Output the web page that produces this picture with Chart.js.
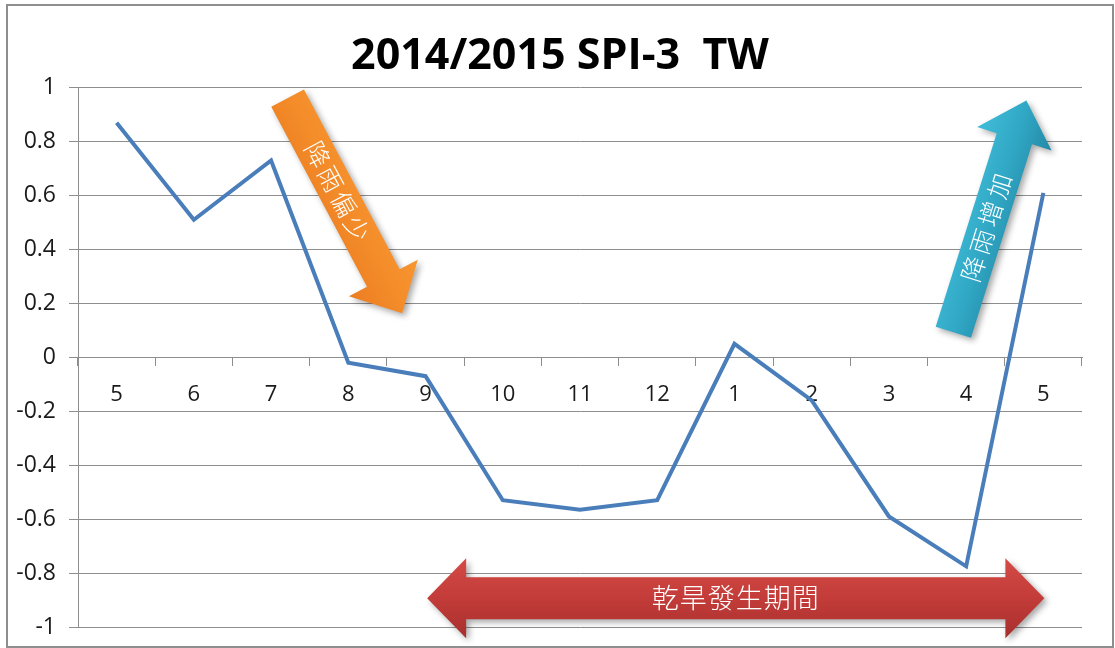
<!DOCTYPE html>
<html>
<head>
<meta charset="utf-8">
<title>2014/2015 SPI-3 TW</title>
<script src="https://cdn.jsdelivr.net/npm/chart.js@4"></script>
<style>
    html, body { margin: 0; padding: 0; background: #fff; }
    #frame {
        position: absolute;
        left: 6px;
        top: 4px;
        width: 1108px;
        height: 644px;
        box-sizing: border-box;
        border: 2px solid #8e8e8e;
        background: #fff;
    }
    #box { position: relative; width: 1104px; height: 640px; }
</style>
</head>
<body>
<div id="frame"><div id="box"><canvas id="spiChart"></canvas></div></div>
<script>
// SPI-3 for Taiwan, May 2014 .. May 2015
const months = ['5', '6', '7', '8', '9', '10', '11', '12', '1', '2', '3', '4', '5'];
const spi3 = [0.87, 0.51, 0.73, -0.02, -0.07, -0.53, -0.565, -0.53, 0.05, -0.16, -0.59, -0.775, 0.61];
const yRange = [-1, 1, 0.2];   // min, max, step

// Callout arrows, in data units: [category index, value]
const fallTail = [2.214, 0.961];
const fallTip = [3.697, 0.163];
const fallText = '降雨偏少';
const riseTail = [10.834, 0.093];
const riseTip = [11.780, 0.952];
const riseText = '降雨增加';
const droughtLeft = [4.021, -0.893];
const droughtRight = [12.013, -0.893];
const droughtText = '乾旱發生期間';

const gridGray = '#8e8e8e';
const labelFont = '"Open Sans", sans-serif';
const cjkFont = '"Noto Sans CJK TC", "Noto Sans CJK SC", sans-serif';

// ============================================
// Arrow drawing helpers
// ============================================

function arrowPath(ctx, len, shaft, head, headLen, twoHeads) {
    const s = shaft / 2, h = head / 2;
    ctx.beginPath();
    if (twoHeads) {
        ctx.moveTo(0, 0);
        ctx.lineTo(headLen, -h);
        ctx.lineTo(headLen, -s);
    } else {
        ctx.moveTo(0, -s);
    }
    ctx.lineTo(len - headLen, -s);
    ctx.lineTo(len - headLen, -h);
    ctx.lineTo(len, 0);
    ctx.lineTo(len - headLen, h);
    ctx.lineTo(len - headLen, s);
    if (twoHeads) {
        ctx.lineTo(headLen, s);
        ctx.lineTo(headLen, h);
    } else {
        ctx.lineTo(0, s);
    }
    ctx.closePath();
}

function drawArrow(ctx, from, to, opts) {
    const dx = to[0] - from[0], dy = to[1] - from[1];
    const len = Math.sqrt(dx * dx + dy * dy);
    const angle = Math.atan2(dy, dx);

    ctx.save();
    ctx.translate(from[0], from[1]);
    ctx.rotate(angle);

    const grad = ctx.createLinearGradient(0, -opts.head / 2, 0, opts.head / 2);
    opts.colors.forEach((c, i) => grad.addColorStop(i / (opts.colors.length - 1), c));

    // soft drop shadow, like the office shape effect
    ctx.shadowColor = 'rgba(0, 0, 0, 0.35)';
    ctx.shadowBlur = 6;
    ctx.shadowOffsetX = 3;
    ctx.shadowOffsetY = 3;
    arrowPath(ctx, len, opts.shaft, opts.head, opts.headLen, opts.twoHeads);
    ctx.fillStyle = grad;
    ctx.fill();

    ctx.shadowColor = 'transparent';
    ctx.fillStyle = '#ffffff';
    ctx.font = opts.font;
    ctx.textAlign = 'center';
    ctx.textBaseline = 'middle';
    if (opts.spacing) ctx.letterSpacing = opts.spacing;
    ctx.fillText(opts.text, len * opts.textAt, 0);
    ctx.restore();
}

const calloutPlugin = {
    id: 'callouts',
    afterDatasetsDraw(chart) {
        const ctx = chart.ctx;
        const xs = chart.scales.x, ys = chart.scales.y;
        const px = p => [xs.getPixelForValue(p[0]), ys.getPixelForValue(p[1])];

        drawArrow(ctx, px(fallTail), px(fallTip), {
            shaft: 37, head: 78, headLen: 40,
            colors: ['#f7962f', '#f38b29', '#ec7d22'],
            text: fallText, textAt: 0.44,
            font: '300 25px ' + cjkFont, spacing: '3px'
        });
        drawArrow(ctx, px(riseTail), px(riseTip), {
            shaft: 37, head: 78, headLen: 40,
            colors: ['#41bcd8', '#31a9c6', '#2389a6'],
            text: riseText, textAt: 0.46,
            font: '300 25px ' + cjkFont, spacing: '4px'
        });
        drawArrow(ctx, px(droughtLeft), px(droughtRight), {
            shaft: 42, head: 80, headLen: 39, twoHeads: true,
            colors: ['#d44b46', '#c33c39', '#a62f2d'],
            text: droughtText, textAt: 0.5,
            font: '300 27px ' + cjkFont, spacing: '1px'
        });
    }
};

// ============================================
// Chart
// ============================================

function initializeSpiChart() {
    const ctx = document.getElementById('spiChart').getContext('2d');

    new Chart(ctx, {
        type: 'line',
        data: {
            labels: months,
            datasets: [{
                label: 'SPI-3',
                data: spi3,
                borderColor: '#4a7ebb',
                borderWidth: 4,
                pointRadius: 0,
                tension: 0,
                fill: false
            }]
        },
        options: {
            responsive: true,
            maintainAspectRatio: false,
            animation: false,
            layout: {
                padding: { left: 0, right: 0, top: 0, bottom: 19 }
            },
            plugins: {
                legend: { display: false },
                tooltip: { enabled: false },
                title: {
                    display: true,
                    text: '2014/2015 SPI-3  TW',
                    color: '#000000',
                    font: { family: labelFont, size: 43, weight: 'bold', lineHeight: 1.2 },
                    padding: { top: 25, bottom: 5 }
                }
            },
            scales: {
                x: {
                    position: { y: 0 },
                    offset: true,
                    afterFit: function(scale) {
                        scale.paddingTop = 0;
                        scale.paddingBottom = 0;
                    },
                    grid: {
                        offset: true,
                        drawOnChartArea: false,
                        drawTicks: true,
                        tickLength: 8,
                        color: gridGray
                    },
                    border: { display: true, color: gridGray },
                    ticks: {
                        color: '#1a1a1a',
                        padding: 16,
                        maxRotation: 0,
                        font: { family: labelFont, size: 22 }
                    }
                },
                y: {
                    min: yRange[0],
                    max: yRange[1],
                    afterFit: function(scale) {
                        scale.width = 70;
                        scale.paddingTop = 0;
                        scale.paddingBottom = 0;
                    },
                    grid: {
                        color: gridGray,
                        tickLength: 9
                    },
                    border: { display: true, color: gridGray },
                    ticks: {
                        stepSize: yRange[2],
                        color: '#1a1a1a',
                        padding: 13,
                        font: { family: labelFont, size: 23 },
                        callback: function(value) {
                            return String(Math.round(value * 10) / 10);
                        }
                    }
                },
                // empty right-hand spacer so the plot ends short of the frame
                // while the title stays centred on the whole canvas
                spacer: {
                    axis: 'y',
                    position: 'right',
                    display: true,
                    min: yRange[0],
                    max: yRange[1],
                    afterFit: function(scale) { scale.width = 30; },
                    grid: { display: false },
                    border: { display: false },
                    ticks: { display: false }
                }
            }
        },
        plugins: [calloutPlugin]
    });
}

document.addEventListener('DOMContentLoaded', initializeSpiChart);
</script>
</body>
</html>
